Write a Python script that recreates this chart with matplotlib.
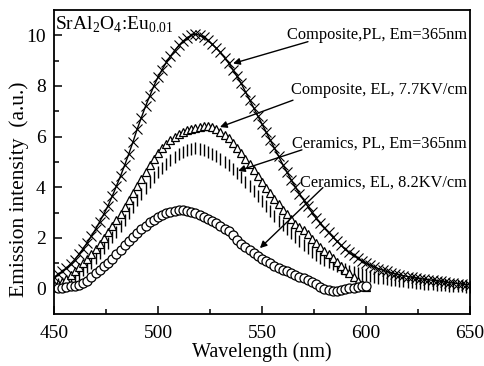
import numpy as np
import matplotlib
matplotlib.use("Agg")
import matplotlib.pyplot as plt

# wavelength grids (nm)
wl_pl = np.arange(450, 651, 2)
wl_el = np.arange(450, 601, 2)

composite_pl = [
    0.45, 0.56, 0.68, 0.82, 0.98, 1.15, 1.36, 1.58, 1.82, 2.08,
    2.35, 2.65, 2.95, 3.28, 3.65, 4.05, 4.45, 4.88, 5.33, 5.80,
    6.30, 6.75, 7.20, 7.60, 8.00, 8.35, 8.65, 8.93, 9.18, 9.40,
    9.60, 9.77, 9.90, 10.00, 10.05, 10.00, 9.92, 9.80, 9.65, 9.50,
    9.33, 9.12, 8.90, 8.65, 8.38, 8.10, 7.78, 7.46, 7.14, 6.82,
    6.50, 6.18, 5.86, 5.54, 5.22, 4.90, 4.60, 4.30, 4.02, 3.75,
    3.50, 3.25, 3.01, 2.79, 2.59, 2.40, 2.22, 2.04, 1.87, 1.71,
    1.55, 1.43, 1.31, 1.20, 1.10, 1.00, 0.93, 0.86, 0.79, 0.73,
    0.68, 0.63, 0.59, 0.55, 0.51, 0.48, 0.45, 0.42, 0.40, 0.37,
    0.35, 0.33, 0.31, 0.29, 0.26, 0.24, 0.22, 0.20, 0.18, 0.16,
    0.15,
]

ceramics_pl = [
    0.15, 0.18, 0.22, 0.28, 0.36, 0.45, 0.58, 0.72, 0.87, 1.03,
    1.20, 1.39, 1.59, 1.80, 2.02, 2.25, 2.48, 2.72, 2.98, 3.24,
    3.50, 3.75, 3.99, 4.22, 4.42, 4.60, 4.77, 4.93, 5.07, 5.19,
    5.30, 5.39, 5.47, 5.52, 5.55, 5.52, 5.47, 5.41, 5.33, 5.23,
    5.12, 5.00, 4.87, 4.72, 4.56, 4.40, 4.22, 4.04, 3.85, 3.65,
    3.45, 3.25, 3.05, 2.86, 2.68, 2.50, 2.34, 2.18, 2.02, 1.87,
    1.72, 1.59, 1.46, 1.34, 1.23, 1.13, 1.04, 0.96, 0.89, 0.82,
    0.76, 0.71, 0.66, 0.61, 0.57, 0.53, 0.50, 0.47, 0.44, 0.41,
    0.38, 0.36, 0.34, 0.31, 0.29, 0.27, 0.25, 0.23, 0.21, 0.20,
    0.18, 0.17, 0.15, 0.14, 0.13, 0.12, 0.11, 0.10, 0.09, 0.08,
    0.07,
]

composite_el = [
    0.15, 0.20, 0.26, 0.38, 0.54, 0.70, 0.86, 1.02, 1.19, 1.37,
    1.55, 1.77, 1.99, 2.22, 2.46, 2.70, 2.96, 3.22, 3.49, 3.77,
    4.05, 4.33, 4.61, 4.88, 5.13, 5.35, 5.54, 5.72, 5.86, 5.99,
    6.10, 6.19, 6.26, 6.32, 6.36, 6.38, 6.41, 6.42, 6.38, 6.30,
    6.20, 6.07, 5.93, 5.76, 5.57, 5.35, 5.13, 4.91, 4.68, 4.44,
    4.20, 3.98, 3.76, 3.54, 3.33, 3.12, 2.93, 2.74, 2.57, 2.43,
    2.30, 2.14, 1.98, 1.82, 1.66, 1.50, 1.35, 1.20, 1.05, 0.90,
    0.75, 0.60, 0.45, 0.32, 0.18, 0.05,
]

ceramics_el = [
    0.05, 0.04, 0.04, 0.06, 0.09, 0.12, 0.16, 0.22, 0.31, 0.45,
    0.60, 0.74, 0.88, 1.02, 1.18, 1.35, 1.53, 1.71, 1.89, 2.05,
    2.20, 2.35, 2.49, 2.62, 2.73, 2.82, 2.90, 2.97, 3.03, 3.08,
    3.10, 3.09, 3.07, 3.03, 2.98, 2.92, 2.84, 2.76, 2.67, 2.58,
    2.48, 2.37, 2.26, 2.11, 1.93, 1.75, 1.63, 1.51, 1.39, 1.28,
    1.18, 1.09, 1.00, 0.91, 0.83, 0.75, 0.68, 0.61, 0.55, 0.48,
    0.42, 0.34, 0.26, 0.17, 0.07, -0.02, -0.07, -0.09, -0.08, -0.06,
    -0.03, 0.01, 0.04, 0.07, 0.09, 0.10,
]

labels = [
    "Composite,PL, Em=365nm",
    "Composite, EL, 7.7KV/cm",
    "Ceramics, PL, Em=365nm",
    "Ceramics, EL, 8.2KV/cm",
]

plt.rcParams["font.family"] = ["Liberation Serif", "DejaVu Serif"]
plt.rcParams["mathtext.fontset"] = "custom"
plt.rcParams["mathtext.rm"] = "Liberation Serif"

fig = plt.figure(figsize=(4.84, 3.66), dpi=100)
ax = fig.add_axes([54 / 484, 52 / 366, 416 / 484, 304 / 366])

ax.plot(wl_pl, composite_pl, color="black", lw=1.0, marker="x", ms=7, mew=0.8)
ax.plot(wl_pl, ceramics_pl, ls="none", color="black", marker="|", ms=8, mew=1.0)
ax.plot(wl_el, composite_el, ls="none", marker="^", ms=6, mfc="white",
        mec="black", mew=0.9)
ax.plot(wl_el, ceramics_el, ls="none", marker="o", ms=6.5, mfc="white",
        mec="black", mew=0.9)

# annotations: (text y, arrow start, arrow head)
text_y = [10.03, 7.83, 5.71, 4.18]
arrows = [((572.1, 9.75), (536.1, 8.89)),
          ((564.9, 7.44), (529.8, 6.38)),
          ((569.2, 5.48), (538.5, 4.65)),
          ((579.3, 3.99), (549.0, 1.60))]
for lab, ty, (start, head) in zip(labels, text_y, arrows):
    ax.text(648.6, ty, lab, ha="right", va="center", fontsize=11.8)
    ax.annotate("", xy=head, xytext=start,
                arrowprops=dict(arrowstyle="-|>", color="black", lw=1.0,
                                mutation_scale=10, shrinkA=0, shrinkB=0))

ax.text(0.003, 0.985, r"SrAl$_\mathrm{2}$O$_\mathrm{4}$:Eu$_\mathrm{0.01}$",
        transform=ax.transAxes, ha="left", va="top", fontsize=14)

ax.set_xlim(450, 650)
ax.set_ylim(-1, 11)
ax.set_xticks([450, 500, 550, 600, 650])
ax.set_xticks([475, 525, 575, 625], minor=True)
ax.set_yticks([0, 2, 4, 6, 8, 10])
ax.set_yticks([1, 3, 5, 7, 9], minor=True)
ax.tick_params(which="both", direction="in", width=1.1, labelsize=14)
ax.tick_params(which="major", length=6)
ax.tick_params(which="minor", length=3.5)
ax.tick_params(axis="x", pad=8)
ax.tick_params(axis="y", pad=6)
for sp in ax.spines.values():
    sp.set_linewidth(1.3)

ax.set_xlabel("Wavelength (nm)", fontsize=14.5, labelpad=0)
ax.set_ylabel("Emission intensity  (a.u.)", fontsize=15.5)
ax.yaxis.set_label_coords(-0.06, 0.41)

fig.savefig("out.png", dpi=100)
